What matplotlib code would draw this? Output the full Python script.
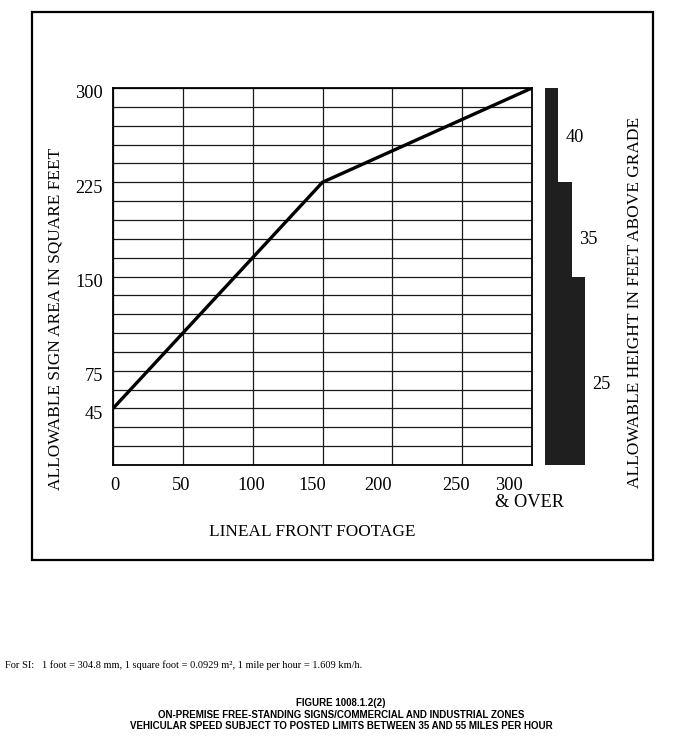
import numpy as np
import matplotlib
matplotlib.use('Agg')
import matplotlib.pyplot as plt
from matplotlib.patches import Rectangle

# allowable sign area vs lineal front footage
front_footage = [0, 150, 300]
sign_area = [45, 225, 300]

x_ticks = [0, 50, 100, 150, 200, 250, 300]
x_tick_labels = ['0', '50', '100', '150', '200', '250', '300\n& OVER']
y_ticks = [45, 75, 150, 225, 300]
y_grid = list(range(0, 301, 15))

# allowable height bands (area limits -> height in feet)
band_edges = [0, 150, 225, 300]
band_heights = [25, 35, 40]

serif = 'Liberation Serif'
sans = 'Liberation Sans'
W, H = 677, 741

fig = plt.figure(figsize=(W / 100, H / 100), dpi=100)

def box(x0, y0, x1, y1):
    # pixel box (top-left origin) -> figure fraction rect
    return [x0 / W, 1 - y1 / H, (x1 - x0) / W, (y1 - y0) / H]

# outer frame
fig.patches.append(Rectangle((32 / W, 1 - 560 / H), (653 - 32) / W, (560 - 12) / H,
                             transform=fig.transFigure, fill=False, lw=1.6,
                             edgecolor='black'))

ax = fig.add_axes(box(113, 88, 532, 465))
ax.set_xlim(0, 300)
ax.set_ylim(0, 300)
for y in y_grid:
    ax.axhline(y, color='#1a1a1a', lw=0.9, zorder=1)
for x in x_ticks:
    ax.axvline(x, color='#1a1a1a', lw=0.9, zorder=1)
ax.plot(front_footage, sign_area, color='black', lw=2.4, zorder=3,
        solid_capstyle='butt')
for s in ax.spines.values():
    s.set_linewidth(1.3)
ax.set_xticks([])
ax.set_yticks([])

# y tick labels
for y in y_ticks:
    ax.annotate(str(y), xy=(0, y), xycoords=('axes fraction', 'data'),
                xytext=(-10, -4), textcoords='offset pixels',
                ha='right', va='center_baseline',
                fontfamily=serif, fontsize=13.2, annotation_clip=False)

# x tick labels, nudged like the printed figure
nudges = [2, -2, -1, -10, -14, -6, -37]
for x, lab, dx in zip(x_ticks, x_tick_labels, nudges):
    ax.annotate(lab, xy=(x, 0), xycoords=('data', 'axes fraction'),
                xytext=(dx, -12), textcoords='offset pixels',
                ha='left' if '\n' in lab else 'center', va='top',
                fontfamily=serif, fontsize=13.2, linespacing=1.0)

fig.text(312 / W, 1 - 532 / H, 'LINEAL FRONT FOOTAGE', ha='center', va='center',
         fontfamily=serif, fontsize=12.4)
fig.text(55 / W, 1 - 319 / H, 'ALLOWABLE SIGN AREA IN SQUARE FEET', rotation=90,
         ha='center', va='center', fontfamily=serif, fontsize=12.4)
fig.text(635 / W, 1 - 302 / H, 'ALLOWABLE HEIGHT IN FEET ABOVE GRADE', rotation=90,
         ha='center', va='center', fontfamily=serif, fontsize=12.5)

# stepped height bar
bx = fig.add_axes(box(545, 88, 585, 465))
bx.set_xlim(0, 3)
bx.set_ylim(0, 300)
bx.axis('off')
n = len(band_heights)
label_dy = [-14, -10, -2]
for i, h in enumerate(band_heights):
    width = n - i
    bx.fill_betweenx([band_edges[i], band_edges[i + 1]], 0, width,
                     color='#1f1f1f', lw=0)
    mid = (band_edges[i] + band_edges[i + 1]) / 2
    bx.annotate(str(h), xy=(width, mid), xytext=(7, label_dy[i]),
                textcoords='offset pixels', ha='left', va='center',
                fontfamily=serif, fontsize=13.2, annotation_clip=False)

fig.text(5 / W, 1 - 665 / H,
         'For SI:   1 foot = 304.8 mm, 1 square foot = 0.0929 m\u00b2, '
         '1 mile per hour = 1.609 km/h.',
         ha='left', va='center', fontfamily=serif, fontsize=7.5)

caption = ['FIGURE 1008.1.2(2)',
           'ON-PREMISE FREE-STANDING SIGNS/COMMERCIAL AND INDUSTRIAL ZONES',
           'VEHICULAR SPEED SUBJECT TO POSTED LIMITS BETWEEN 35 AND 55 MILES PER HOUR']
for k, line in enumerate(caption):
    fig.text(341 / W, 1 - (703 + 11.5 * k) / H, line, ha='center', va='center',
             fontfamily=sans, fontweight='bold', fontsize=7.0)

fig.savefig('out.png', dpi=100)
